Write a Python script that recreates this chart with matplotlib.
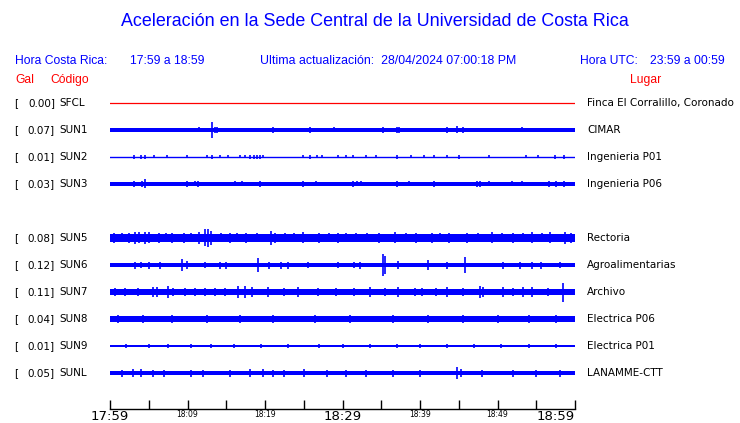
import matplotlib.pyplot as plt
import matplotlib.transforms as mtransforms

W, H = 740, 423

# stations, top to bottom (row 4 is left empty)
codes = ["SFCL", "SUN1", "SUN2", "SUN3", "SUN5", "SUN6", "SUN7", "SUN8", "SUN9", "SUNL"]
places = ["Finca El Corralillo, Coronado", "CIMAR", "Ingenieria P01", "Ingenieria P06",
          "Rectoria", "Agroalimentarias", "Archivo", "Electrica P06", "Electrica P01",
          "LANAMME-CTT"]
peaks = ["0.00", "0.07", "0.01", "0.03", "0.08", "0.12", "0.11", "0.04", "0.01", "0.05"]
rows = [0, 1, 2, 3, 5, 6, 7, 8, 9, 10]

# background band half-height of each trace (px)
base_px = [0, 2.0, 0.5, 1.8, 4.0, 2.0, 2.7, 3.0, 1.0, 2.0]

# bursts / spikes: (minute after 17:59, half-height px)
sfcl_events = []
sun1_events = [(11.5, 2.5), (13.2, 8), (13.5, 3), (13.8, 3), (21.0, 3), (25.8, 3), (28.9, 2.5),
               (35.2, 3), (37.0, 3), (37.3, 3), (43.5, 3), (44.8, 3.5), (45.5, 3), (53.2, 2.5)]
sun2_events = [(3.1, 2), (4.0, 2), (4.5, 2), (5.7, 1.5), (7.4, 1.5), (9.9, 1.5), (12.5, 1.5),
               (13.2, 2), (14.2, 1.5), (15.2, 1.5), (16.8, 1.5), (17.4, 1.5), (18.1, 2),
               (18.6, 2), (19.0, 2), (19.4, 2), (19.7, 1.5), (24.9, 1.5), (25.8, 2), (26.7, 1.5),
               (27.4, 1.5), (29.4, 1.5), (30.5, 1.5), (31.4, 1.5), (33.0, 1.5), (34.3, 1.5),
               (37.0, 2), (38.8, 1.5), (40.5, 1.5), (41.8, 1.5), (43.5, 1.5), (45.0, 2),
               (48.9, 1.5), (53.7, 1.5), (55.2, 1.5), (57.4, 2), (58.6, 2)]
sun3_events = [(3.1, 3), (4.1, 3), (4.5, 4.5), (9.9, 3), (11.0, 2.5), (11.4, 3), (16.1, 2.5),
               (17.0, 2.5), (19.4, 3), (24.9, 3), (26.6, 2.5), (31.4, 3), (31.9, 2.5),
               (32.4, 2.5), (37.0, 3), (38.6, 2.5), (41.8, 3), (47.4, 3), (47.7, 3), (48.9, 2.5),
               (51.9, 2.5), (53.2, 2.5), (56.6, 3), (57.5, 3), (58.6, 3)]
sun5_events = [(0.5, 5), (1.5, 4.5), (2.4, 5), (3.2, 6), (3.8, 5.5), (4.5, 6), (5.0, 5.5),
               (6.3, 5), (7.2, 4.5), (8.0, 5), (9.5, 5), (10.4, 4.5), (11.5, 6), (12.2, 8.5),
               (12.6, 9), (13.0, 7), (14.3, 4.5), (15.5, 5), (16.4, 4.5), (17.5, 5), (19.0, 4.5),
               (20.8, 7), (21.3, 5), (22.6, 4.5), (23.8, 4.5), (24.9, 5.5), (27.0, 5),
               (28.2, 4.5), (29.4, 5), (30.5, 4.5), (31.8, 4.5), (33.2, 4.5), (34.7, 5),
               (36.8, 5.5), (38.2, 4.5), (39.5, 5), (41.5, 5), (42.6, 4.5), (43.7, 5), (46.0, 5),
               (47.5, 4.5), (49.3, 5.5), (50.6, 4.5), (52.0, 5), (53.3, 4.5), (54.5, 5.5),
               (55.7, 4.5), (56.8, 5.5), (58.7, 6), (59.5, 5)]
sun6_events = [(3.2, 3.5), (4.0, 3), (5.0, 3.5), (6.5, 3.5), (9.3, 6), (9.9, 4), (12.2, 3),
               (14.2, 3.5), (15.0, 3.5), (19.1, 7), (20.5, 3.5), (22.0, 3.5), (23.0, 3.5),
               (25.5, 3), (29.4, 3), (31.5, 3), (32.3, 3.5), (35.2, 11), (35.5, 9), (37.2, 4),
               (41.0, 5), (43.5, 3.5), (45.8, 8), (50.7, 3.5), (52.9, 3.5), (54.5, 3.5),
               (55.6, 3.5), (58.0, 3)]
sun7_events = [(0.6, 4), (1.9, 4), (3.6, 4), (5.5, 5), (6.1, 5), (7.5, 6), (8.1, 4), (9.7, 4),
               (11.0, 4), (12.2, 4), (13.5, 4), (14.8, 4), (16.5, 6), (17.4, 6), (18.3, 5),
               (20.4, 5), (22.5, 4), (24.3, 5), (26.8, 4), (29.1, 4), (31.5, 4), (33.5, 5),
               (35.5, 4), (37.2, 5), (39.4, 4), (40.3, 4), (42.0, 4), (43.5, 5), (45.5, 4),
               (47.7, 6), (48.1, 5), (50.7, 5), (52.0, 4), (53.3, 5), (54.5, 5), (56.5, 4),
               (58.5, 9.5)]
sun8_events = [(1.0, 4), (4.3, 4), (8.0, 4), (12.5, 4), (16.8, 4), (21.0, 4), (26.5, 4),
               (31.0, 4), (36.5, 4), (41.0, 4), (45.5, 4), (50.0, 4), (54.0, 4), (57.5, 4.5)]
sun9_events = [(2.0, 2), (5.0, 2), (7.5, 2), (10.5, 2), (13.0, 2), (16.0, 2), (19.5, 2),
               (23.0, 2), (27.0, 2), (30.0, 2), (33.5, 2), (37.0, 2), (40.0, 2), (43.5, 2),
               (47.0, 2), (50.5, 2), (54.0, 2), (57.5, 2)]
sunl_events = [(1.5, 3.5), (3.0, 4), (4.0, 4.5), (5.5, 3.5), (7.0, 3.5), (10.5, 3.5),
               (12.0, 3.5), (15.5, 3.5), (18.0, 4), (19.8, 4), (21.0, 3.5), (22.5, 3.5),
               (25.0, 4), (28.0, 3.5), (30.5, 3.5), (33.0, 3.5), (36.5, 3.5), (40.0, 3.5),
               (44.8, 5.5), (45.3, 4.5), (48.0, 3.5), (52.0, 3.5), (55.0, 3.5), (58.0, 3.5)]
events = [sfcl_events, sun1_events, sun2_events, sun3_events, sun5_events, sun6_events,
          sun7_events, sun8_events, sun9_events, sunl_events]

tick_minutes = list(range(0, 61, 5))
tick_labels = ["17:59", "", "18:09", "", "18:19", "", "18:29", "", "18:39", "", "18:49", "", "18:59"]
big_labels = ["17:59", "18:29", "18:59"]

BLUE = "#0000ff"
RED = "#ff0000"
ROW_PX = 27.0
FIRST_ROW_Y = 103  # px from top
AX_TOP, AX_BOTTOM = 90, 409

fig = plt.figure(figsize=(W / 100, H / 100), dpi=100)
ax = fig.add_axes([110 / W, (H - AX_BOTTOM) / H, 465 / W, (AX_BOTTOM - AX_TOP) / H])
ax.set_xlim(0, 60)
ax.set_ylim((AX_BOTTOM - FIRST_ROW_Y) / ROW_PX, (AX_TOP - FIRST_ROW_Y) / ROW_PX)

for i, r in enumerate(rows):
    if codes[i] == "SFCL":
        ax.plot([0, 60], [r, r], color=RED, lw=0.9)
        continue
    b = base_px[i] / ROW_PX
    if b < 0.03:
        ax.plot([0, 60], [r, r], color=BLUE, lw=1.0)
    else:
        ax.fill_between([0, 60], r - b, r + b, color=BLUE, lw=0)
    for m, a in events[i]:
        ax.vlines(m, r - a / ROW_PX, r + a / ROW_PX, color=BLUE, lw=1.2)

# time axis
for s in ["top", "left", "right"]:
    ax.spines[s].set_visible(False)
ax.spines["bottom"].set_linewidth(1.0)
ax.set_yticks([])
ax.set_xticks(tick_minutes)
ax.set_xticklabels(tick_labels)
ax.tick_params(axis="x", direction="in", length=6.5, width=1.0, pad=1)
for lbl in ax.get_xticklabels():
    lbl.set_fontsize(9.5 if lbl.get_text() in big_labels else 5.5)
    if lbl.get_text() == "18:59":
        lbl.set_horizontalalignment("right")

# left / right labels per row
trans = mtransforms.blended_transform_factory(fig.transFigure, ax.transData)
for i, r in enumerate(rows):
    fig.text(14 / W, r, "[", transform=trans, fontsize=7.5, va="center")
    fig.text(55 / W, r, peaks[i] + "]", transform=trans, fontsize=7.5, va="center", ha="right")
    fig.text(59 / W, r, codes[i], transform=trans, fontsize=7.5, va="center")
    fig.text(587 / W, r, places[i], transform=trans, fontsize=7.5, va="center")

# header
hfont = "Liberation Sans"
fig.text(375 / W, 1 - 22 / H, "Aceleración en la Sede Central de la Universidad de Costa Rica",
         fontsize=12.9, color=BLUE, ha="center", va="center", family=hfont)
fig.text(15 / W, 1 - 61 / H, "Hora Costa Rica:", fontsize=8.7, color=BLUE, va="center", family=hfont)
fig.text(130 / W, 1 - 61 / H, "17:59 a 18:59", fontsize=8.7, color=BLUE, va="center", family=hfont)
fig.text(260 / W, 1 - 61 / H, "Ultima actualización:  28/04/2024 07:00:18 PM", fontsize=8.9,
         color=BLUE, va="center", family=hfont)
fig.text(580 / W, 1 - 61 / H, "Hora UTC:", fontsize=8.7, color=BLUE, va="center", family=hfont)
fig.text(650 / W, 1 - 61 / H, "23:59 a 00:59", fontsize=8.7, color=BLUE, va="center", family=hfont)
fig.text(15 / W, 1 - 80 / H, "Gal", fontsize=8.7, color=RED, va="center", family=hfont)
fig.text(50 / W, 1 - 80 / H, "Código", fontsize=8.7, color=RED, va="center", family=hfont)
fig.text(630 / W, 1 - 80 / H, "Lugar", fontsize=8.7, color=RED, va="center", family=hfont)

fig.savefig("out.png", dpi=100)
